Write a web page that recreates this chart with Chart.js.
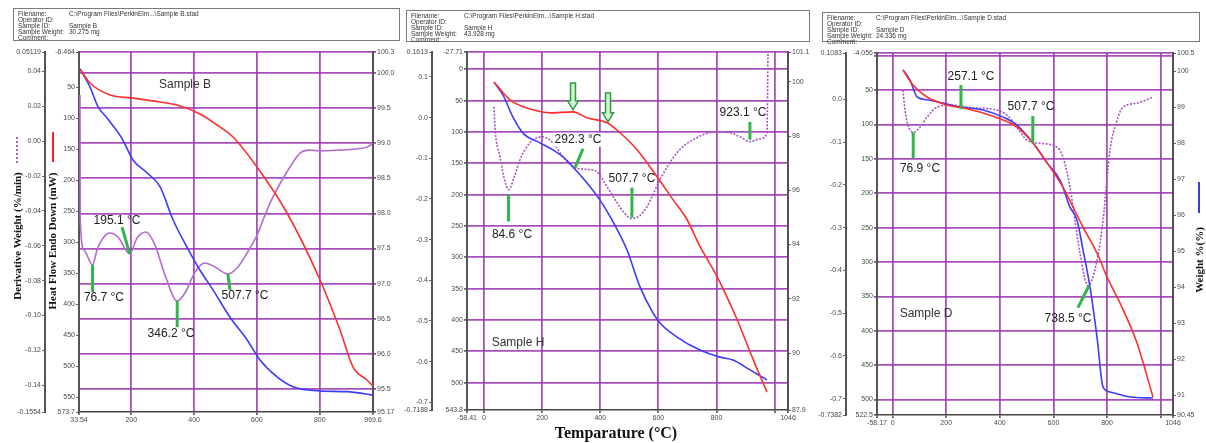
<!DOCTYPE html>
<html>
<head>
<meta charset="utf-8">
<script src="https://cdn.jsdelivr.net/npm/chart.js@4.4.0/dist/chart.umd.min.js"></script>
<style>
  body { margin: 0; background: #fff; }
  #page { position: relative; width: 1206px; height: 443px; overflow: hidden; background: #fff; }
  canvas { position: absolute; top: 0; }
  .hdr { position: absolute; border: 1px solid #7a7a7a; box-sizing: border-box; font: 6.5px 'Liberation Sans', Arial, sans-serif; line-height: 6px; color: #333; padding: 2px 0 0 4px; }
  .hdr span { display: inline-block; }
  .rot { position: absolute; transform: translate(-50%, -50%) rotate(-90deg); white-space: nowrap; font: bold 11px 'Liberation Serif', serif; color: #111; }
  .key { position: absolute; width: 0; }
</style>
</head>
<body>
<div id="page">
  <canvas id="chartB" width="400" height="443" style="left:0"></canvas>
  <canvas id="chartH" width="412" height="443" style="left:400px"></canvas>
  <canvas id="chartD" width="396" height="443" style="left:810px"></canvas>

  <div class="hdr" style="left:13px;top:8px;width:387px;height:33px">
    <div><span style="width:51px">Filename:</span>C:\Program Files\PerkinElm...\Sample B.stad</div>
    <div><span style="width:51px">Operator ID:</span></div>
    <div><span style="width:51px">Sample ID:</span>Sample B</div>
    <div><span style="width:51px">Sample Weight:</span>30.275 mg</div>
    <div><span style="width:51px">Comment:</span></div>
  </div>
  <div class="hdr" style="left:406px;top:10px;width:404px;height:32px">
    <div><span style="width:53px">Filename:</span>C:\Program Files\PerkinElm...\Sample H.stad</div>
    <div><span style="width:53px">Operator ID:</span></div>
    <div><span style="width:53px">Sample ID:</span>Sample H</div>
    <div><span style="width:53px">Sample Weight:</span>43.928 mg</div>
    <div><span style="width:53px">Comment:</span></div>
  </div>
  <div class="hdr" style="left:822px;top:12px;width:378px;height:30px">
    <div><span style="width:49px">Filename:</span>C:\Program Files\PerkinElm...\Sample D.stad</div>
    <div><span style="width:49px">Operator ID:</span></div>
    <div><span style="width:49px">Sample ID:</span>Sample D</div>
    <div><span style="width:49px">Sample Weight:</span>24.336 mg</div>
    <div><span style="width:49px">Comment:</span></div>
  </div>

  <div class="key" style="left:16px;top:137px;height:26px;border-left:2px dotted #b060c0"></div>
  <div class="rot" style="left:17px;top:236px">Derivative Weight (%/min)</div>
  <div class="key" style="left:52px;top:132px;height:30px;border-left:2px solid #ff2020"></div>
  <div class="rot" style="left:52px;top:241px">Heat Flow Endo Down (mW)</div>
  <div class="key" style="left:1198px;top:182px;height:31px;border-left:2px solid #3a3ae0"></div>
  <div class="rot" style="left:1199px;top:260px">Weight %(%)</div>
  <div style="position:absolute;left:616px;top:433px;transform:translate(-50%,-50%);white-space:nowrap;font:bold 16px 'Liberation Serif',serif;color:#111">Temparature (°C)</div>
</div>

<script>
// ---- Sample B ----
const bXTicks = ['33.54', '200', '400', '600', '800', '969.6'];
const bDerivTicks = ['0.05119', '0.04', '0.02', '0.00', '-0.02', '-0.04', '-0.06', '-0.08', '-0.10', '-0.12', '-0.14', '-0.1554'];
const bHeatTicks = ['-6.464', '50', '100', '150', '200', '250', '300', '350', '400', '450', '500', '550', '573.7'];
const bWeightTicks = ['100.3', '100.0', '99.5', '99.0', '98.5', '98.0', '97.5', '97.0', '96.5', '96.0', '95.5', '95.17'];

const bHeatT = [36.7, 68.6, 132.2, 205.5, 291.4, 345.6, 418.8, 473.0, 523.9, 600.3, 696.0, 801.0, 864.6, 906.0, 950.5, 969.6];
const bHeat = [20.9, 43.5, 62.8, 67.7, 74.1, 79.0, 93.5, 111.2, 130.5, 178.9, 253.0, 361.0, 441.6, 501.2, 522.1, 531.8];
const bWeightT = [36.7, 68.6, 94.0, 122.7, 170.4, 205.5, 250.1, 291.4, 332.8, 377.4, 418.8, 460.2, 514.3, 568.4, 609.8, 664.0, 715.0, 801.0, 886.9, 969.6];
const bWeight = [100.06, 99.80, 99.52, 99.36, 99.07, 98.76, 98.58, 98.38, 97.91, 97.52, 97.19, 96.91, 96.52, 96.20, 95.91, 95.67, 95.53, 95.47, 95.46, 95.41];
const bDerivT = [36.7, 37.5, 49.5, 76.7, 90.9, 110.0, 132.2, 157.7, 195.1, 218.2, 246.9, 275.5, 307.4, 346.2, 371.0, 402.9, 434.7, 466.6, 507.7, 536.6, 568.4, 603.5, 619.4, 651.2, 705.4, 737.2, 769.0, 801.0, 864.6, 912.3, 950.5, 969.6];
const bDeriv = [0.0265, -0.0452, -0.0625, -0.0711, -0.0625, -0.0556, -0.0527, -0.0550, -0.0647, -0.0556, -0.0521, -0.0596, -0.0768, -0.0917, -0.0871, -0.0751, -0.0699, -0.0722, -0.0762, -0.0728, -0.0642, -0.0527, -0.0452, -0.0320, -0.0148, -0.0068, -0.0051, -0.0056, -0.0051, -0.0045, -0.0034, -0.0011];

// ---- Sample H ----
const hXTicks = ['-58.41', '0', '200', '400', '600', '800', '~1000', '1046'];
const hDerivTicks = ['0.1613', '0.1', '0.0', '-0.1', '-0.2', '-0.3', '-0.4', '-0.5', '-0.6', '-0.7', '-0.7188'];
const hHeatTicks = ['-27.71', '0', '50', '100', '150', '200', '250', '300', '350', '400', '450', '500', '543.8'];
const hWeightTicks = ['101.1', '100', '98', '96', '94', '92', '90', '87.9'];

const hHeatT = [34.5, 89.5, 168.7, 227.2, 306.3, 354.5, 423.3, 468.0, 526.5, 595.4, 650.3, 698.5, 743.3, 801.7, 870.5, 925.6, 973.7];
const hHeat = [20.1, 48.7, 64.6, 69.4, 67.8, 77.4, 85.3, 101.2, 128.3, 171.3, 207.9, 239.7, 282.7, 330.5, 398.9, 462.6, 515.2];
const hWeightT = [34.5, 65.5, 99.8, 134.3, 192.7, 237.5, 271.9, 306.3, 354.5, 399.2, 440.5, 492.1, 536.8, 581.5, 605.6, 664.1, 743.3, 812.0, 856.8, 915.3, 973.7];
const hWeight = [99.99, 99.51, 98.70, 98.11, 97.75, 97.49, 97.23, 96.86, 96.27, 95.64, 94.91, 93.80, 92.44, 91.48, 91.11, 90.59, 90.11, 89.85, 89.74, 89.38, 89.01];
const hDerivT = [34.5, 37.9, 55.1, 68.9, 84.6, 103.3, 123.9, 158.3, 199.6, 237.5, 271.9, 313.2, 364.8, 388.9, 423.3, 457.7, 481.8, 507.7, 536.8, 560.9, 605.6, 664.1, 719.1, 801.7, 846.4, 880.9, 915.3, 949.7, 973.7, 977.2];
const hDeriv = [0.0265, -0.0250, -0.0961, -0.1476, -0.1770, -0.1476, -0.1035, -0.0618, -0.0471, -0.0618, -0.0961, -0.1231, -0.1280, -0.1329, -0.1697, -0.2089, -0.2334, -0.2481, -0.2407, -0.2187, -0.1525, -0.0863, -0.0544, -0.0348, -0.0373, -0.0471, -0.0593, -0.0520, -0.0373, 0.1613];

// ---- Sample D ----
const dXTicks = ['-58.17', '0', '200', '400', '600', '800', '~1000', '1046'];
const dDerivTicks = ['0.1083', '0.0', '-0.1', '-0.2', '-0.3', '-0.4', '-0.5', '-0.6', '-0.7', '-0.7382'];
const dHeatTicks = ['-4.056', '~0', '50', '100', '150', '200', '250', '300', '350', '400', '450', '500', '522.5'];
const dWeightTicks = ['100.5', '100', '99', '98', '97', '96', '95', '94', '93', '92', '91', '90.45'];

const dHeatT = [38.8, 76.1, 128.3, 203.0, 262.6, 337.3, 411.9, 464.1, 523.8, 587.2, 635.7, 673.0, 710.3, 762.5, 799.8, 848.3, 911.7, 971.4];
const dHeat = [20.7, 42.5, 60.0, 71.6, 76.0, 83.2, 93.4, 103.6, 126.9, 161.8, 190.9, 220.0, 249.1, 286.9, 321.8, 359.6, 417.8, 496.3];
const dWeightT = [38.8, 64.9, 91.0, 128.3, 188.0, 251.4, 337.3, 411.9, 464.1, 523.8, 576.0, 624.5, 661.8, 687.9, 710.3, 736.4, 762.5, 784.9, 811.0, 885.6, 971.4];
const dWeight = [100.03, 99.75, 99.28, 99.20, 99.11, 99.00, 98.92, 98.72, 98.50, 98.00, 97.45, 96.97, 96.22, 95.86, 95.03, 94.00, 92.62, 91.23, 91.09, 90.95, 90.92];
const dDerivT = [38.8, 46.3, 57.5, 76.9, 102.2, 128.3, 165.6, 214.1, 314.9, 374.5, 426.8, 464.1, 501.4, 549.9, 613.3, 635.7, 661.8, 680.4, 699.1, 728.9, 762.5, 784.9, 811.0, 837.1, 859.5, 911.7, 971.4];
const dDeriv = [0.0215, -0.0254, -0.0605, -0.0770, -0.0652, -0.0418, -0.0183, -0.0136, -0.0207, -0.0230, -0.0371, -0.0652, -0.0957, -0.1028, -0.1121, -0.1356, -0.2059, -0.2833, -0.3607, -0.4357, -0.3771, -0.2833, -0.1192, -0.0488, -0.0183, -0.0090, 0.0051];

// peak markers: [t1, deriv1, t2, deriv2], labels: [t, deriv, text, whiteBox]
const bPeakLines = [[76.7, -0.0711, 76.7, -0.0866], [170.5, -0.0493, 195.1, -0.0647], [346.2, -0.0917, 346.2, -0.1067], [507.7, -0.0762, 514.3, -0.0854]];
const bPeakLabels = [[113, -0.0900, '76.7 °C'], [154.5, -0.0458, '195.1 °C'], [326.5, -0.1107, '346.2 °C'], [562, -0.0889, '507.7 °C']];
const hPeakLines = [[84.6, -0.1893, 84.6, -0.2555], [313.2, -0.1231, 340.7, -0.0765], [509, -0.1721, 509, -0.2457], [915, -0.0103, 915, -0.0544]];
const hPeakLabels = [[96.4, -0.2873, '84.6 °C'], [323.5, -0.0544, '292.3 °C', true], [509, -0.1500, '507.7 °C'], [891, 0.0118, '923.1 °C']];
const hArrows = [[306.3, 21.6, 64.6], [426.7, 37.6, 83.7]]; // [t, heat flow top, heat flow tip]
const dPeakLines = [[76.9, -0.0770, 76.9, -0.1379], [255, 0.0333, 255, -0.0230], [523, -0.0394, 523, -0.1028], [691.6, -0.4873, 732.6, -0.4357]];
const dPeakLabels = [[102.2, -0.1614, '76.9 °C'], [292.5, 0.0520, '257.1 °C'], [516.3, -0.0183, '507.7 °C'], [654.3, -0.5131, '738.5 °C']];

const GRID = 'rgba(158,60,180,0.9)';
const num = s => parseFloat(s.replace('~', ''));
const lab = s => s.startsWith('~') ? '' : s;

function axis(list, extra) {
  const a = num(list[0]), b = num(list[list.length - 1]);
  return Object.assign({
    type: 'linear',
    min: Math.min(a, b),
    max: Math.max(a, b),
    afterBuildTicks: s => { s.ticks = list.map(t => ({ value: num(t) })); },
    ticks: {
      autoSkip: false, maxRotation: 0, padding: 1, color: '#4a4a4a',
      font: { size: 7, family: "'Liberation Sans', Arial" },
      callback: (v, i) => lab(list[i])
    },
    border: { color: '#555', width: 2 },
    grid: { drawOnChartArea: false, tickLength: 3, color: '#666', tickColor: '#666' }
  }, extra);
}

// horizontal grid on chart area, bottom line left to the x axis
const hGrid = n => ({ drawOnChartArea: true, tickLength: 3, tickColor: '#666', lineWidth: 1.8,
  color: ctx => ctx.index === n - 1 ? 'transparent' : GRID });

function marks(lines, labels, sample, arrows) {
  return {
    id: 'tgaMarks',
    afterDatasetsDraw(chart) {
      const { ctx, scales } = chart;
      const X = v => scales.x.getPixelForValue(v);
      const Y = v => scales.yd.getPixelForValue(v);
      ctx.save();
      ctx.strokeStyle = '#2fb54a';
      ctx.lineWidth = 3;
      lines.forEach(m => {
        ctx.beginPath();
        ctx.moveTo(X(m[0]), Y(m[1]));
        ctx.lineTo(X(m[2]), Y(m[3]));
        ctx.stroke();
      });
      ctx.font = "12px 'Liberation Sans Narrow', 'Arial Narrow', Arial";
      ctx.textAlign = 'center';
      ctx.textBaseline = 'middle';
      labels.forEach(l => {
        const x = X(l[0]), y = Y(l[1]);
        if (l[3]) {
          const w = ctx.measureText(l[2]).width;
          ctx.fillStyle = '#fff';
          ctx.fillRect(x - w / 2 - 2, y - 7, w + 4, 14);
        }
        ctx.fillStyle = '#222';
        ctx.fillText(l[2], x, y);
      });
      ctx.font = "12px 'Liberation Sans', Arial";
      ctx.fillStyle = '#333';
      ctx.fillText(sample[2], X(sample[0]), Y(sample[1]));
      (arrows || []).forEach(r => {
        const x = X(r[0]), y1 = scales.yh.getPixelForValue(r[1]), y2 = scales.yh.getPixelForValue(r[2]);
        ctx.beginPath();
        ctx.moveTo(x - 2.5, y1); ctx.lineTo(x + 2.5, y1); ctx.lineTo(x + 2.5, y2 - 9);
        ctx.lineTo(x + 5.5, y2 - 9); ctx.lineTo(x, y2); ctx.lineTo(x - 5.5, y2 - 9);
        ctx.lineTo(x - 2.5, y2 - 9); ctx.closePath();
        ctx.fillStyle = '#d6f0d6'; ctx.fill();
        ctx.strokeStyle = '#2a9d3c'; ctx.lineWidth = 1.5; ctx.stroke();
      });
      ctx.restore();
    }
  };
}

function line(ts, vs, axisId, color, dash) {
  return {
    data: ts.map((t, i) => ({ x: t, y: vs[i] })),
    yAxisID: axisId,
    borderColor: color,
    borderWidth: 1.6,
    borderDash: dash || [],
    pointRadius: 0,
    cubicInterpolationMode: 'monotone'
  };
}

function makePanel(id, p) {
  const nX = p.xTicks.length;
  return new Chart(document.getElementById(id), {
    type: 'line',
    data: { datasets: p.datasets },
    options: {
      responsive: false,
      animation: false,
      layout: { padding: p.pad },
      plugins: { legend: { display: false }, tooltip: { enabled: false } },
      scales: {
        x: axis(p.xTicks, {
          afterFit: s => { s.height = 20; },
          border: { color: '#444', width: 1.5 },
          grid: { drawOnChartArea: true, tickLength: 3, tickColor: '#666', lineWidth: 1.8,
            color: ctx => (ctx.index === 0 || ctx.index === nX - 1) ? 'transparent' : GRID }
        }),
        yd: axis(p.dTicks, { position: 'left', weight: 2, afterFit: s => { s.width = p.wD; } }),
        yh: axis(p.hTicks, Object.assign({ position: 'left', weight: 1, reverse: true, afterFit: s => { s.width = p.wH; } },
          p.grid === 'h' ? { grid: hGrid(p.hTicks.length) } : {})),
        yw: axis(p.wTicks, Object.assign({ position: 'right', afterFit: s => { s.width = p.wW; }, border: { color: '#5c4a60', width: 2 } },
          p.grid === 'w' ? { grid: hGrid(p.wTicks.length) } : {}))
      }
    },
    plugins: [p.plugin]
  });
}

makePanel('chartB', {
  pad: { left: 0, right: 0, top: 52, bottom: 11 }, wD: 45, wH: 34, wW: 27, grid: 'w',
  xTicks: bXTicks, dTicks: bDerivTicks, hTicks: bHeatTicks, wTicks: bWeightTicks,
  datasets: [
    line(bHeatT, bHeat, 'yh', '#ff2e2e'),
    line(bWeightT, bWeight, 'yw', '#3b3bff'),
    line(bDerivT, bDeriv, 'yd', '#b56ad0')
  ],
  plugin: marks(bPeakLines, bPeakLabels, [371, 0.0323, 'Sample B'])
});

makePanel('chartH', {
  pad: { left: 0, right: 0, top: 52, bottom: 13 }, wD: 32, wH: 35, wW: 24, grid: 'h',
  xTicks: hXTicks, dTicks: hDerivTicks, hTicks: hHeatTicks, wTicks: hWeightTicks,
  datasets: [
    line(hHeatT, hHeat, 'yh', '#ff2e2e'),
    line(hWeightT, hWeight, 'yw', '#3b3bff'),
    line(hDerivT, hDeriv, 'yd', '#a850c0', [2, 1.5])
  ],
  plugin: marks(hPeakLines, hPeakLabels, [117, -0.5521, 'Sample H'], hArrows)
});

makePanel('chartD', {
  pad: { left: 0, right: 0, top: 53, bottom: 8 }, wD: 36, wH: 31, wW: 33, grid: 'h',
  xTicks: dXTicks, dTicks: dDerivTicks, hTicks: dHeatTicks, wTicks: dWeightTicks,
  datasets: [
    line(dHeatT, dHeat, 'yh', '#ff2e2e'),
    line(dWeightT, dWeight, 'yw', '#3b3bff'),
    line(dDerivT, dDeriv, 'yd', '#a850c0', [2, 1.5])
  ],
  plugin: marks(dPeakLines, dPeakLabels, [124.6, -0.5014, 'Sample D'])
});
</script>
</body>
</html>
